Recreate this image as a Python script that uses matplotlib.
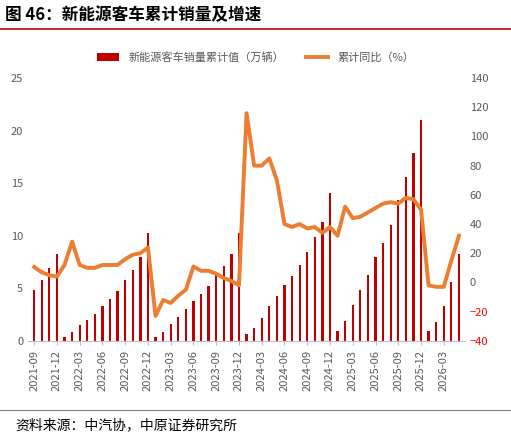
import matplotlib
matplotlib.use("Agg")
import matplotlib.pyplot as plt
import numpy as np

plt.rcParams['font.family'] = ['Noto Sans CJK SC', 'DejaVu Sans']

months = [f"{y}-{m:02d}" for y in range(2021, 2027) for m in range(1, 13)]
months = months[months.index("2021-09"):months.index("2026-05") + 1]
sales = [4.8, 5.8, 6.9, 8.3,
         0.4, 0.8, 1.5, 2.0, 2.6, 3.3, 4.0, 4.7, 5.8, 6.7, 8.0, 10.3,
         0.4, 0.8, 1.6, 2.3, 3.0, 3.8, 4.5, 5.2, 6.3, 7.1, 8.3, 10.3,
         0.7, 1.2, 2.2, 3.3, 4.3, 5.3, 6.2, 7.2, 8.5, 9.9, 11.3, 14.1,
         0.9, 1.9, 3.4, 4.8, 6.3, 8.0, 9.3, 11.0, 13.4, 15.6, 17.9, 21.0,
         0.9, 1.8, 3.3, 5.6, 8.3]
growth = [10.6, 7, 5, 4,
          12, 28, 12, 10, 10, 12, 12, 12, 16, 19, 20, 24,
          -23, -12, -14, -9, -5, 11, 8, 8, 6, 3, 1, -2,
          116, 80, 80, 85, 70, 40, 38, 40, 37, 38, 34, 38,
          32, 52, 44, 45, 48, 51, 54, 55, 54, 58, 57, 50,
          -2, -3, -3, 15, 32]

fig = plt.figure(figsize=(5.11, 4.41), dpi=100)
ax = fig.add_axes([0.055, 0.227, 0.855, 0.596])
x = np.arange(len(months))
ax.bar(x, sales, width=0.3, color='#C00000', label='新能源客车销量累计值（万辆）')
ax.set_ylim(0, 25)
ax.set_yticks(range(0, 26, 5))
ax.set_xlim(-0.8, len(months) - 0.2)
ax.set_xticks(x[::3])
ax.set_xticklabels(months[::3], rotation=90, fontsize=8, color='#595959')
ax.tick_params(axis='y', length=0, labelsize=8, labelcolor='#595959')
ax.tick_params(axis='x', length=3, color='#BFBFBF')
for s in ['top', 'right', 'left']:
    ax.spines[s].set_visible(False)
ax.spines['bottom'].set_color('#BFBFBF')

ax2 = ax.twinx()
ax2.plot(x, growth, color='#ED7D31', lw=2.8, label='累计同比（%）')
ax2.set_ylim(-40, 140)
ax2.set_yticks(range(-40, 141, 20))
ax2.tick_params(axis='y', length=0, labelsize=8, labelcolor='#595959')
for t, v in zip(ax2.get_yticklabels(), range(-40, 141, 20)):
    if v < 0:
        t.set_color('#FF0000')
for s in ['top', 'right', 'left', 'bottom']:
    ax2.spines[s].set_visible(False)

h1, l1 = ax.get_legend_handles_labels()
h2, l2 = ax2.get_legend_handles_labels()
fig.legend(h1 + h2, l1 + l2, loc='upper center', bbox_to_anchor=(0.5, 0.905), ncol=2,
           frameon=False, fontsize=8, labelcolor='#595959', handlelength=2)

fig.text(0.01, 0.965, '图 46：新能源客车累计销量及增速', fontsize=12, fontweight='bold', va='center')
fig.add_artist(plt.Line2D([0.0, 1.0], [0.935, 0.935], color='#C00000', lw=1.2))
fig.add_artist(plt.Line2D([0.0, 1.0], [0.07, 0.07], color='#7F7F7F', lw=0.8))
fig.text(0.03, 0.035, '资料来源：中汽协，中原证券研究所', fontsize=10, va='center')
fig.savefig('out.png', dpi=100, facecolor='white')
